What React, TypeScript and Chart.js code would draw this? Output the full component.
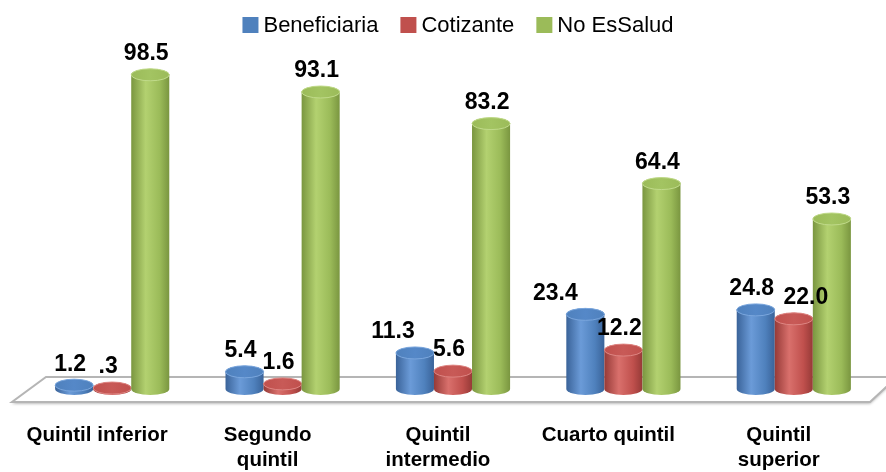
import React, { useEffect, useRef } from "react";
import { Chart, registerables } from "chart.js";

Chart.register(...registerables);

const categories: string[][] = [
  ["Quintil inferior"],
  ["Segundo", "quintil"],
  ["Quintil", "intermedio"],
  ["Cuarto quintil"],
  ["Quintil", "superior"],
];
const seriesNames = ["Beneficiaria", "Cotizante", "No EsSalud"];
const beneficiaria = [1.2, 5.4, 11.3, 23.4, 24.8];
const cotizante = [0.3, 1.6, 5.6, 12.2, 22.0];
const noEsSalud = [98.5, 93.1, 83.2, 64.4, 53.3];

const FONT = "'Liberation Sans', Arial, sans-serif";

const palette = [
  { base: "#4F81BD", light: "#6b9bd8", dark: "#3a6399", top: "#5588c8", rim: "#7aa6dd" },
  { base: "#C0504D", light: "#d9706c", dark: "#963a37", top: "#c85a57", rim: "#de8582" },
  { base: "#9BBB59", light: "#b3d170", dark: "#7a9640", top: "#a3c462", rim: "#c0da8a" },
];

// small label nudges (px) to mimic the reference's overlap avoidance
const labelNudge: Record<string, number> = { "0-2": -22, "0-3": -30, "1-4": 12 };

const fmt = (v: number) => v.toFixed(1).replace(/^0\./, ".");

function drawCylinder(ctx: CanvasRenderingContext2D, x: number, top: number, base: number, w: number, c: any) {
  const rx = w / 2;
  const ry = 6;
  const left = x - rx;
  const right = x + rx;
  ctx.save();
  const g = ctx.createLinearGradient(left, 0, right, 0);
  g.addColorStop(0, c.dark);
  g.addColorStop(0.38, c.light);
  g.addColorStop(0.75, c.base);
  g.addColorStop(1, c.dark);
  ctx.beginPath();
  ctx.moveTo(left, top);
  ctx.lineTo(left, base);
  ctx.ellipse(x, base, rx, ry, 0, Math.PI, 0, true);
  ctx.lineTo(right, top);
  ctx.ellipse(x, top, rx, ry, 0, 0, Math.PI, true);
  ctx.closePath();
  ctx.fillStyle = g;
  ctx.fill();
  ctx.beginPath();
  ctx.ellipse(x, top, rx, ry, 0, 0, Math.PI * 2);
  const tg = ctx.createLinearGradient(left, 0, right, 0);
  tg.addColorStop(0, c.base);
  tg.addColorStop(0.5, c.top);
  tg.addColorStop(1, c.base);
  ctx.fillStyle = tg;
  ctx.fill();
  ctx.lineWidth = 1;
  ctx.strokeStyle = c.rim;
  ctx.stroke();
  ctx.restore();
}

const cylinderPlugin = {
  id: "cylinders",
  beforeDatasetsDraw(chart: any) {
    const { ctx, chartArea } = chart;
    const { left, right, bottom } = chartArea;
    ctx.save();
    ctx.beginPath();
    ctx.moveTo(left - 15, bottom + 13);
    ctx.lineTo(right - 9, bottom + 13);
    ctx.lineTo(right + 18, bottom - 12);
    ctx.lineTo(left + 19, bottom - 12);
    ctx.closePath();
    ctx.shadowColor = "rgba(0,0,0,0.35)";
    ctx.shadowBlur = 3;
    ctx.shadowOffsetY = 1.5;
    ctx.fillStyle = "#ffffff";
    ctx.fill();
    ctx.shadowColor = "transparent";
    ctx.lineWidth = 2;
    ctx.strokeStyle = "#b5b5b5";
    ctx.stroke();
    ctx.restore();
  },
  beforeDatasetDraw() {
    return false;
  },
  afterDatasetsDraw(chart: any) {
    const ctx = chart.ctx as CanvasRenderingContext2D;
    const nCat = chart.data.labels.length;
    for (let i = 0; i < nCat; i++) {
      chart.data.datasets.forEach((_: any, di: number) => {
        const el = chart.getDatasetMeta(di).data[i];
        const p = el.getProps(["x", "y", "base", "width"], true);
        drawCylinder(ctx, p.x, p.y, p.base, p.width, palette[di]);
      });
    }
    ctx.save();
    ctx.font = `bold 23px ${FONT}`;
    ctx.fillStyle = "#000";
    ctx.textAlign = "center";
    ctx.textBaseline = "middle";
    chart.data.datasets.forEach((ds: any, di: number) => {
      chart.getDatasetMeta(di).data.forEach((el: any, i: number) => {
        const p = el.getProps(["x", "y"], true);
        const dx = labelNudge[`${di}-${i}`] ?? -4;
        ctx.fillText(fmt(ds.data[i]), p.x + dx, p.y - 21);
      });
    });
    ctx.restore();
  },
  afterDraw(chart: any) {
    const ctx = chart.ctx as CanvasRenderingContext2D;
    const { left, right } = chart.chartArea;
    ctx.save();
    ctx.font = `22px ${FONT}`;
    ctx.textBaseline = "middle";
    ctx.textAlign = "left";
    const box = 16;
    const gap = 5;
    const itemGap = 22;
    const widths = seriesNames.map((n) => box + gap + ctx.measureText(n).width);
    const total = widths.reduce((a, b) => a + b, 0) + itemGap * (seriesNames.length - 1);
    let x = (left + right) / 2 + 5 - total / 2;
    const cy = 25;
    seriesNames.forEach((n, i) => {
      ctx.fillStyle = palette[i].base;
      ctx.fillRect(x, cy - box / 2, box, box);
      ctx.fillStyle = "#000";
      ctx.fillText(n, x + box + gap, cy + 1);
      x += widths[i] + itemGap;
    });
    ctx.restore();
  },
};

export default function App() {
  const canvasRef = useRef<HTMLCanvasElement | null>(null);
  useEffect(() => {
    document.body.style.margin = "0";
    const canvas = canvasRef.current;
    if (!canvas) return;
    Chart.defaults.font.family = FONT;
    const chart = new Chart(canvas, {
      type: "bar",
      data: {
        labels: categories,
        datasets: [
          { label: seriesNames[0], data: beneficiaria, backgroundColor: palette[0].base },
          { label: seriesNames[1], data: cotizante, backgroundColor: palette[1].base },
          { label: seriesNames[2], data: noEsSalud, backgroundColor: palette[2].base },
        ],
      },
      options: {
        animation: false,
        responsive: true,
        maintainAspectRatio: false,
        layout: { padding: { top: 70, left: 27, right: 7, bottom: 0 } },
        datasets: { bar: { categoryPercentage: 0.67, barPercentage: 1.0 } },
        plugins: { legend: { display: false }, tooltip: { enabled: false } },
        scales: {
          x: {
            grid: { display: false, drawTicks: false },
            border: { display: false },
            afterFit: (scale: any) => {
              scale.height = 83;
            },
            ticks: {
              font: { family: FONT, size: 20.5, weight: "bold", lineHeight: 1.2 },
              color: "#000",
              padding: 34,
              labelOffset: -15,
              maxRotation: 0,
              autoSkip: false,
            },
          },
          y: { display: false, min: 0, max: 100 },
        },
      },
      plugins: [cylinderPlugin],
    });
    return () => chart.destroy();
  }, []);
  return (
    <div style={{ position: "relative", width: 886, height: 472 }}>
      <canvas ref={canvasRef} />
    </div>
  );
}
